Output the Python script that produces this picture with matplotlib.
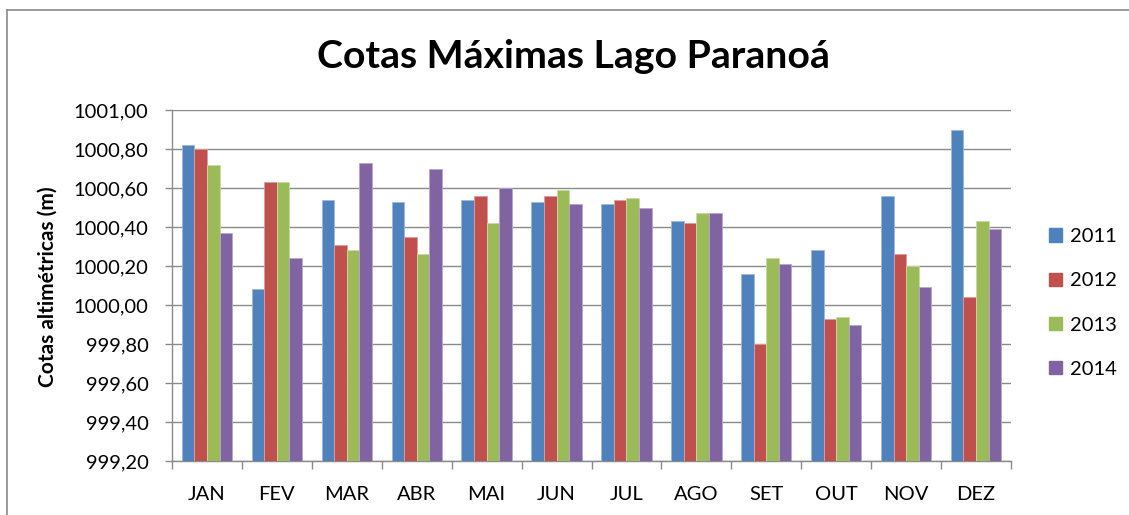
import matplotlib.pyplot as plt
import numpy as np
from matplotlib.ticker import FuncFormatter, MultipleLocator
from matplotlib.patches import Patch
from matplotlib.lines import Line2D

# dados
meses = ["JAN", "FEV", "MAR", "ABR", "MAI", "JUN", "JUL", "AGO", "SET", "OUT", "NOV", "DEZ"]
anos = ["2011", "2012", "2013", "2014"]
cotas_2011 = [1000.82, 1000.08, 1000.54, 1000.53, 1000.54, 1000.53, 1000.52, 1000.43, 1000.16, 1000.28, 1000.56, 1000.90]
cotas_2012 = [1000.80, 1000.63, 1000.31, 1000.35, 1000.56, 1000.56, 1000.54, 1000.42, 999.80, 999.93, 1000.26, 1000.04]
cotas_2013 = [1000.72, 1000.63, 1000.28, 1000.26, 1000.42, 1000.59, 1000.55, 1000.47, 1000.24, 999.94, 1000.20, 1000.43]
cotas_2014 = [1000.37, 1000.24, 1000.73, 1000.70, 1000.60, 1000.52, 1000.50, 1000.47, 1000.21, 999.90, 1000.09, 1000.39]

series = [cotas_2011, cotas_2012, cotas_2013, cotas_2014]
cores = ["#4F81BD", "#C0504D", "#9BBB59", "#8064A2"]
bordas = ["#9DB9DC", "#DE9C9A", "#C9DBA5", "#B8A6CE"]

plt.rcParams['font.family'] = ['Lato', 'DejaVu Sans']

W, H = 1129, 515
fig = plt.figure(figsize=(W / 100, H / 100), dpi=100)
ax = fig.add_axes([172 / W, (H - 461) / H, 839 / W, 351 / H])

ymin, ymax = 999.2, 1001.0
x = np.arange(len(meses))
w = 0.18
for i, (vals, cor, borda) in enumerate(zip(series, cores, bordas)):
    v = np.array(vals)
    ax.bar(x + (i - 1.5) * w, v - ymin, bottom=ymin, width=w, color=cor,
           edgecolor=borda, linewidth=0.6, zorder=3)

ax.set_xlim(-0.5, len(meses) - 0.5)
ax.set_ylim(ymin, ymax)
ax.yaxis.set_major_locator(MultipleLocator(0.2))
ax.yaxis.set_major_formatter(FuncFormatter(lambda v, p: f"{v:.2f}".replace('.', ',')))
ax.grid(axis='y', color='#8a8a8a', linewidth=1.0, zorder=1)

# ticks do eixo x nas divisas das categorias
ax.set_xticks(np.arange(len(meses) + 1) - 0.5)
ax.set_xticklabels([])
ax.set_xticks(x, minor=True)
ax.set_xticklabels(meses, minor=True, fontsize=14.5)
ax.tick_params(axis='x', which='major', length=6, width=1.0, color='#8a8a8a', direction='out')
ax.tick_params(axis='x', which='minor', length=0, pad=18)
ax.tick_params(axis='y', length=5, width=1.0, color='#8a8a8a', direction='out', pad=12, labelsize=14.5)

for s in ['top', 'right']:
    ax.spines[s].set_visible(False)
for s in ['left', 'bottom']:
    ax.spines[s].set_color('#8a8a8a')
    ax.spines[s].set_linewidth(1.0)

fig.text(48 / W, 1 - 287 / H, 'Cotas altimétricas (m)', rotation=90, ha='center', va='center',
         fontsize=15, fontweight='bold')

fig.text(573 / W, 1 - 56 / H, 'Cotas Máximas Lago Paranoá', ha='center', va='center',
         fontsize=28.3, fontweight='bold')

handles = [Patch(facecolor=c, edgecolor=c) for c in cores]
fig.legend(handles, anos, loc='center left', bbox_to_anchor=(1049 / W, 1 - 303 / H),
           frameon=False, fontsize=14.5, handlelength=0.65, handleheight=0.65,
           handletextpad=0.4, labelspacing=1.35, borderpad=0, borderaxespad=0)

# moldura do grafico
fig.add_artist(Line2D([7 / W, 1], [1 - 10 / H, 1 - 10 / H], color='#8a8a8a', linewidth=1.2))
fig.add_artist(Line2D([7 / W, 7 / W], [0, 1 - 10 / H], color='#8a8a8a', linewidth=1.2))

fig.savefig('out.png', dpi=100)
